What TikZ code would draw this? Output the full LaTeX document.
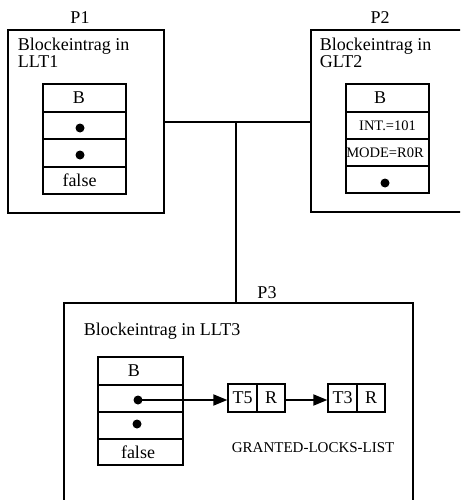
\documentclass[tikz,border=0pt]{standalone}
\usepackage{fontspec}
\setmainfont{Liberation Serif}
\usetikzlibrary{arrows.meta}
\begin{document}
\begin{tikzpicture}[x=1pt,y=-1pt,line width=1.8pt,
  frame/.style={draw,rectangle,inner sep=0pt,anchor=north west},
  cell/.style={draw,rectangle,inner sep=0pt,minimum width=#1,minimum height=27.5pt},
  cell/.default=83pt,
  pair/.style={draw,rectangle,inner sep=0pt,minimum width=28.5pt,minimum height=28pt,font=\fontsize{18}{18}\selectfont},
  big/.style={font=\fontsize{18}{17}\selectfont,inner sep=0pt},
  small/.style={font=\fontsize{14.5}{14}\selectfont,inner sep=0pt},
  dot/.style={circle,fill,inner sep=0pt,minimum size=9pt},
  ptr/.style={-{Triangle[length=14pt,width=11pt]},line width=1.8pt}]
\clip (0,0) rectangle (460,500);

% process frames
\node[frame,minimum width=156pt,minimum height=183pt] (p1box) at (7,29) {};
\node[frame,minimum width=170pt,minimum height=182pt] (p2box) at (310,29) {};
\node[frame,minimum width=349pt,minimum height=230pt] (p3box) at (63,302) {};

\node[big,anchor=base] (p1) at (80,24) {P1};
\node[big,anchor=base] (p2) at (380,24) {P2};
\node[big,anchor=base] (p3) at (267,298) {P3};

% two-line titles, one node per line
\node[big,anchor=base west] (t1a) at (17,51) {Blockeintrag in};
\node[big,anchor=base west] (t1b) at (17,68) {LLT1};
\node[big,anchor=base west] (t2a) at (319,51) {Blockeintrag in};
\node[big,anchor=base west] (t2b) at (319,68) {GLT2};
\node[big,anchor=base west] (t3) at (83,335) {Blockeintrag in LLT3};

% connection between the three frames
\coordinate (j) at (236,122);
\draw (p1box.east |- j) -- (p2box.west |- j);
\draw (j) -- (j |- p3box.north);

% block entry in LLT1
\node[cell] (a1) at (84.5,98) {};
\node[cell] (a2) at (84.5,125.5) {};
\node[cell] (a3) at (84.5,153) {};
\node[cell] (a4) at (84.5,180.5) {};
\node[big] (a1t) at (79,98) {B};
\node[dot] (a2d) at (80,128) {};
\node[dot] (a3d) at (80,155) {};
\node[big] (a4t) at (79.5,180.5) {false};

% block entry in GLT2
\node[cell] (b1) at (387.5,98) {};
\node[cell] (b2) at (387.5,125.5) {};
\node[cell] (b3) at (387.5,152.5) {};
\node[cell] (b4) at (387.5,179.5) {};
\node[big] (b1t) at (380,98) {B};
\node[small] (b2t) at (387.5,126) {INT.=101};
\node[small] (b3t) at (385,153) {MODE=R0R};
\node[dot] (b4d) at (385,183) {};

% block entry in LLT3
\node[cell=85pt] (c1) at (140.5,371) {};
\node[cell=85pt] (c2) at (140.5,398.5) {};
\node[cell=85pt] (c3) at (140.5,425.5) {};
\node[cell=85pt,minimum height=26.5pt] (c4) at (140.5,452) {};
\node[big] (c1t) at (134,371) {B};
\node[dot] (c2d) at (138,400) {};
\node[dot] (c3d) at (137,424) {};
\node[big] (c4t) at (138,452) {false};

% granted locks list
\node[pair] (l1t) at (242.5,398) {T5};
\node[pair] (l1m) at (271,398) {R};
\node[pair] (l2t) at (342.5,398) {T3};
\node[pair] (l2m) at (371,398) {R};
\draw[ptr] (c2d.center) -- (l1t.west |- c2d);
\draw[ptr] (l1m.east |- c2d) -- (l2t.west |- c2d);
\node[small,anchor=base west,font=\fontsize{15}{15}\selectfont] (gl) at (231,452) {GRANTED-LOCKS-LIST};
\end{tikzpicture}
\end{document}
